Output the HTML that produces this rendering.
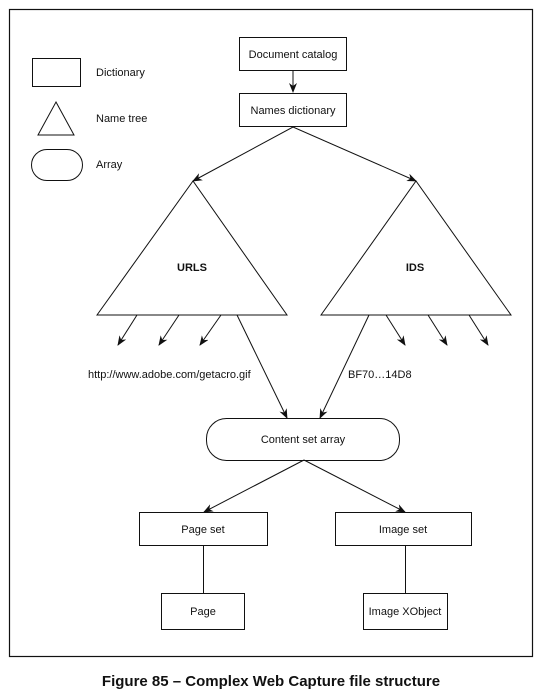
<!DOCTYPE html>
<html><head><style>
body{margin:0;background:#fff;width:541px;height:692px;overflow:hidden}
svg{position:absolute;left:0;top:0}
text{font-family:"Liberation Sans",sans-serif;font-size:11px;fill:#111}
.cap{font-weight:bold;font-size:15px}
</style></head><body>
<svg width="541" height="692" viewBox="0 0 541 692">
<defs><marker id="a" markerWidth="10" markerHeight="8" refX="9" refY="4" orient="auto" markerUnits="userSpaceOnUse"><path d="M0,0 L10,4 L0,8 L3,4 Z" fill="#111"/></marker></defs>
<g fill="none" stroke="#111" stroke-width="1">
<rect x="9.5" y="9.5" width="523" height="647" stroke-width="1.2"/>
<rect x="32.5" y="58.5" width="48" height="28"/>
<path d="M56,102 L74,135 L38,135 Z"/>
<rect x="31.5" y="149.5" width="51" height="31" rx="15.5"/>
<rect x="239.5" y="37.5" width="107" height="33"/>
<rect x="239.5" y="93.5" width="107" height="33"/>
<path d="M97,315 L193,181 L287,315 Z"/>
<path d="M321,315 L416,181 L511,315 Z"/>
<rect x="206.5" y="418.5" width="193" height="42" rx="20"/>
<rect x="139.5" y="512.5" width="128" height="33"/>
<rect x="335.5" y="512.5" width="136" height="33"/>
<rect x="161.5" y="593.5" width="83" height="36"/>
<rect x="363.5" y="593.5" width="84" height="36"/>
<line x1="203.5" y1="546" x2="203.5" y2="593"/>
<line x1="405.5" y1="546" x2="405.5" y2="593"/>
<g marker-end="url(#a)">
<line x1="293" y1="71" x2="293" y2="92"/>
<line x1="293" y1="127" x2="193" y2="181"/>
<line x1="293" y1="127" x2="416" y2="181"/>
<line x1="137" y1="315" x2="118" y2="345"/>
<line x1="179" y1="315" x2="159" y2="345"/>
<line x1="221" y1="315" x2="200" y2="345"/>
<line x1="237" y1="315" x2="287" y2="418"/>
<line x1="369" y1="315" x2="320" y2="418"/>
<line x1="386" y1="315" x2="405" y2="345"/>
<line x1="428" y1="315" x2="447" y2="345"/>
<line x1="469" y1="315" x2="488" y2="345"/>
<line x1="304" y1="460" x2="204" y2="512"/>
<line x1="304" y1="460" x2="405" y2="512"/>
</g>
</g>
<text x="96" y="76">Dictionary</text>
<text x="96" y="122">Name tree</text>
<text x="96" y="168">Array</text>
<text x="293" y="58" text-anchor="middle">Document catalog</text>
<text x="293" y="114" text-anchor="middle">Names dictionary</text>
<text x="192" y="271" text-anchor="middle" font-weight="bold">URLS</text>
<text x="415" y="271" text-anchor="middle" font-weight="bold">IDS</text>
<text x="88" y="378">http://www.adobe.com/getacro.gif</text>
<text x="348" y="378">BF70…14D8</text>
<text x="303" y="443" text-anchor="middle">Content set array</text>
<text x="203" y="533" text-anchor="middle">Page set</text>
<text x="403" y="533" text-anchor="middle">Image set</text>
<text x="203" y="615" text-anchor="middle">Page</text>
<text x="405" y="615" text-anchor="middle">Image XObject</text>
<text x="271" y="686" text-anchor="middle" class="cap">Figure 85 –  Complex Web Capture file structure</text>
</svg>
</body></html>
